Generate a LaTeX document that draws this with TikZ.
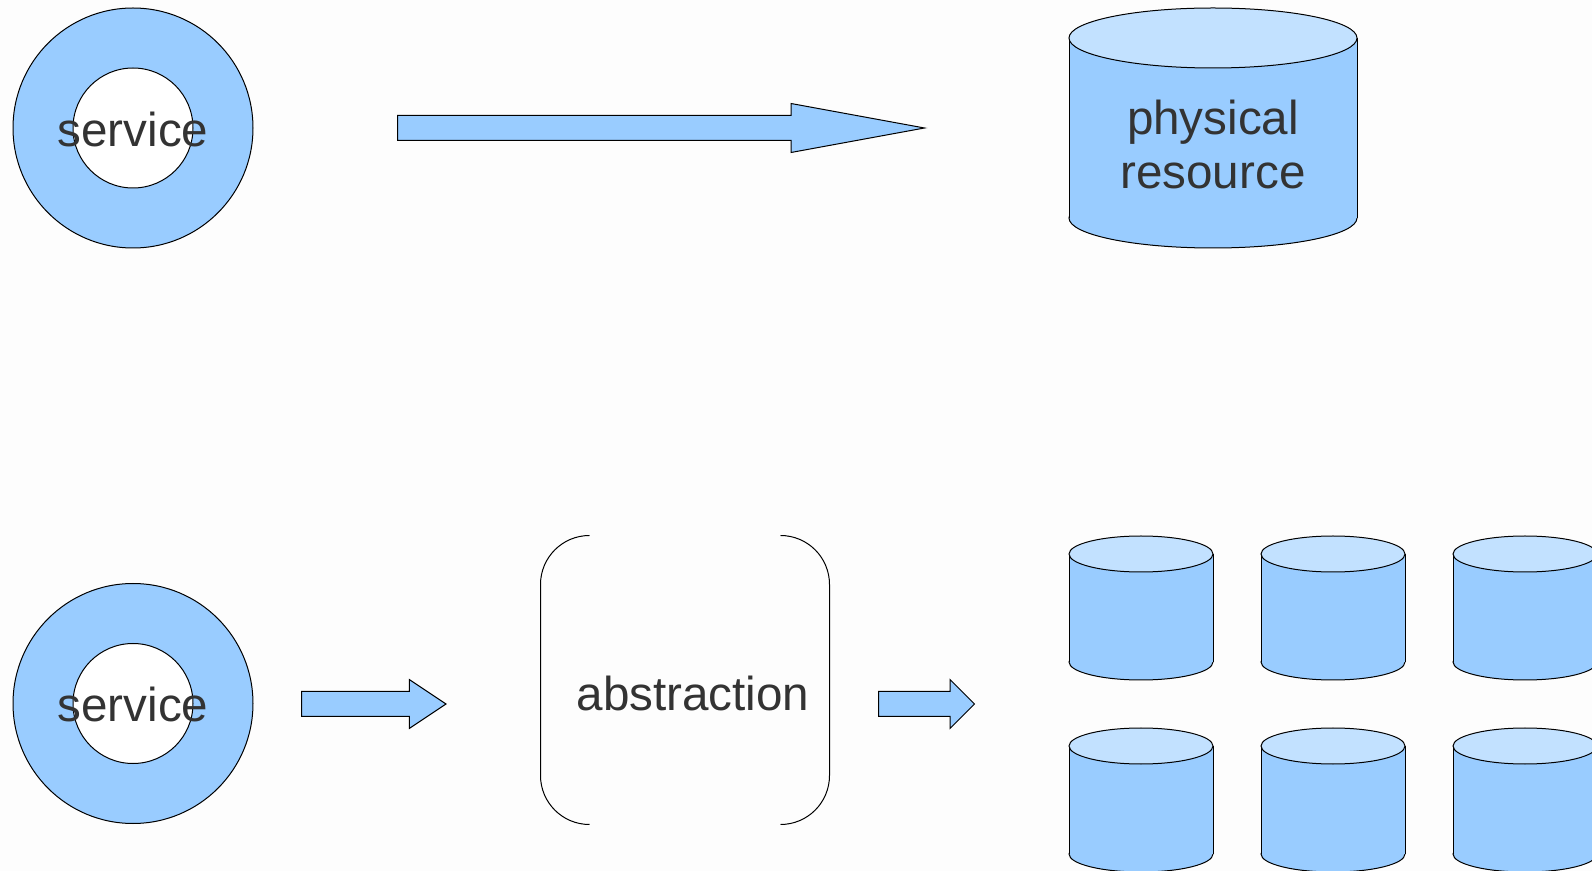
\documentclass[tikz,border=0pt]{standalone}
\usepackage{fontspec}
\setmainfont{Liberation Sans}
\usetikzlibrary{shapes.arrows}

\definecolor{skyfill}{HTML}{99CCFF}
\definecolor{skytop}{HTML}{C2E1FF}
\definecolor{inkgray}{HTML}{333333}
\definecolor{paper}{HTML}{FDFDFD}

% a drum: centre x, top y, bottom y, x radius, y radius (all in px)
\newcommand{\drum}[5]{%
  \filldraw[fill=skyfill] (#1,#3) ellipse [x radius=#4*0.5pt, y radius=#5*0.5pt];
  \fill[skyfill] (#1-#4,#2) rectangle (#1+#4,#3);
  \draw (#1-#4,#2) -- (#1-#4,#3) (#1+#4,#2) -- (#1+#4,#3);
  \filldraw[fill=skytop] (#1,#2) ellipse [x radius=#4*0.5pt, y radius=#5*0.5pt];}

\begin{document}
\begin{tikzpicture}[x=0.5pt, y=-0.5pt, line width=0.5pt,
% common options for the rings:
ring/.style = {circle, draw, fill=skyfill, minimum size=120pt, inner sep=0},
hole/.style = {circle, draw, fill=white, minimum size=60pt, inner sep=0},
% common options for the block arrows:
blockarrow/.style = {single arrow, draw, fill=skyfill, inner xsep=0, inner ysep=6pt,
            single arrow head extend=6pt, minimum width=24pt, anchor=tail},
% common options for the texts:
words/.style = {text=inkgray, font=\fontsize{23.8pt}{27pt}\selectfont, align=center, inner sep=0}]
\clip (0,0) rectangle (1592,871);
\fill[paper] (0,0) rectangle (1592,871);

% top row
\node[ring] (ringA) at (133,128) {};
\node[hole] (holeA) at (ringA) {};
\node[words] (svcA) at (133,129) {service};
\node[blockarrow, minimum height=263.5pt, single arrow tip angle=20.8] (longarrow) at (397,128) {};
\drum{1213}{38}{218}{144}{30}
\node[words] (physres) at (1213,144) {physical\\resource};

% bottom row
\node[ring] (ringB) at (133,703.5) {};
\node[hole] (holeB) at (ringB) {};
\node[words] (svcB) at (133,704.5) {service};
\node[blockarrow, minimum height=72.25pt, single arrow tip angle=67.4] (arrowA) at (301,704) {};
\node[minimum width=144pt, minimum height=144pt, inner sep=0] (abs) at (685,680) {};
\draw[rounded corners=24.5pt] ([xshift=24.5pt]abs.north west) -- (abs.north west)
    -- (abs.south west) -- ([xshift=24.5pt]abs.south west);
\draw[rounded corners=24.5pt] ([xshift=-24.5pt]abs.north east) -- (abs.north east)
    -- (abs.south east) -- ([xshift=-24.5pt]abs.south east);
\node[words] (abstext) at (693,693) {abstraction};
\node[blockarrow, minimum height=48pt, single arrow tip angle=90] (arrowB) at (878,704) {};
\foreach \cx in {1141,1333,1525}
  \foreach \ty in {554,746}
    {\drum{\cx}{\ty}{\ty+108}{72}{18}}
\end{tikzpicture}
\end{document}
